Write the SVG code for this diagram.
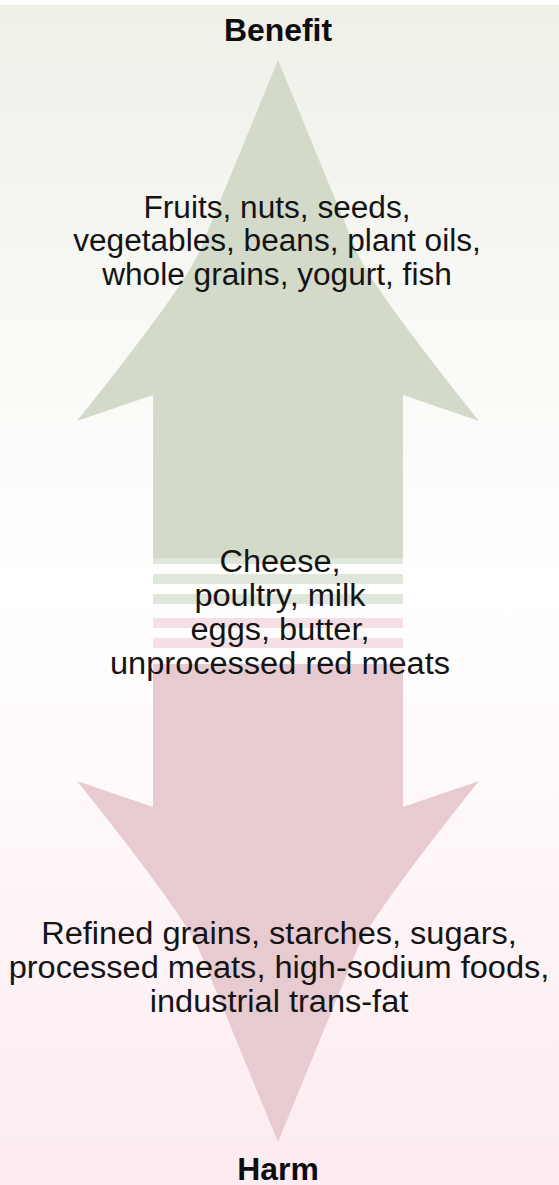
<svg xmlns="http://www.w3.org/2000/svg" width="559" height="1185" viewBox="0 0 559 1185">
  <defs>
    <linearGradient id="bg" x1="0" y1="0" x2="0" y2="1">
      <stop offset="0" stop-color="#f0f0e9"/>
      <stop offset="0.5" stop-color="#ffffff"/>
      <stop offset="1" stop-color="#fcebf0"/>
    </linearGradient>
  </defs>
  <style>
    .t { font-family: "Liberation Sans", Arial, Helvetica, sans-serif; font-size: 31px; fill: #141414; text-anchor: middle; }
    .h { font-family: "Liberation Sans", Arial, Helvetica, sans-serif; font-size: 31px; font-weight: bold; fill: #0d0d0d; text-anchor: middle; }
    .green { fill: #d3dac9; }
    .green-light { fill: #dfe6da; }
    .pink { fill: #e8cbd1; }
    .pink-light { fill: #f6e0e5; }
  </style>
  <rect x="0" y="0" width="559" height="1185" fill="#ffffff"/>
  <rect x="0" y="5" width="559" height="1180" fill="url(#bg)"/>

  <g id="arrows">
    <g id="benefit-arrow">
      <path class="green" d="M278,60 L200,250 Q186,285 77,421 L153,395 L153,558 L403,558 L403,395 L479,421 Q370,285 356,250 Z"/>
      <rect class="green-light" x="153" y="558" width="250" height="6"/>
      <rect class="green-light" x="153" y="574" width="250" height="10"/>
      <rect class="green-light" x="153" y="594" width="250" height="10"/>
    </g>
    <g id="harm-arrow">
      <rect class="pink-light" x="153" y="618" width="250" height="10"/>
      <rect class="pink-light" x="153" y="638" width="250" height="10"/>
      <path class="pink" d="M278,1142 L200,952 Q186,917 77,781 L153,807 L153,664 L403,664 L403,807 L479,781 Q370,917 356,952 Z"/>
    </g>
  </g>

  <g id="connectors"/>

  <g id="benefit" transform="translate(278,0) scale(1.03,1)">
    <text class="h" x="0" y="41">Benefit</text>
  </g>

  <g id="beneficial-foods" transform="translate(277,0) scale(1.02,1)">
    <text class="t" x="0" y="218">Fruits, nuts, seeds,</text>
    <text class="t" x="0" y="251">vegetables, beans, plant oils,</text>
    <text class="t" x="0" y="285">whole grains, yogurt, fish</text>
  </g>

  <g id="neutral-foods" transform="translate(280,0) scale(1.05,1)">
    <text class="t" x="0" y="572">Cheese,</text>
    <text class="t" x="0" y="606">poultry, milk</text>
    <text class="t" x="0" y="640">eggs, butter,</text>
    <text class="t" x="0" y="674">unprocessed red meats</text>
  </g>

  <g id="harmful-foods" transform="translate(279,0) scale(1.05,1)">
    <text class="t" x="0" y="944">Refined grains, starches, sugars,</text>
    <text class="t" x="0" y="978">processed meats, high-sodium foods,</text>
    <text class="t" x="0" y="1012">industrial trans-fat</text>
  </g>

  <g id="harm" transform="translate(278,0) scale(1.03,1)">
    <text class="h" x="0" y="1180">Harm</text>
  </g>
</svg>
